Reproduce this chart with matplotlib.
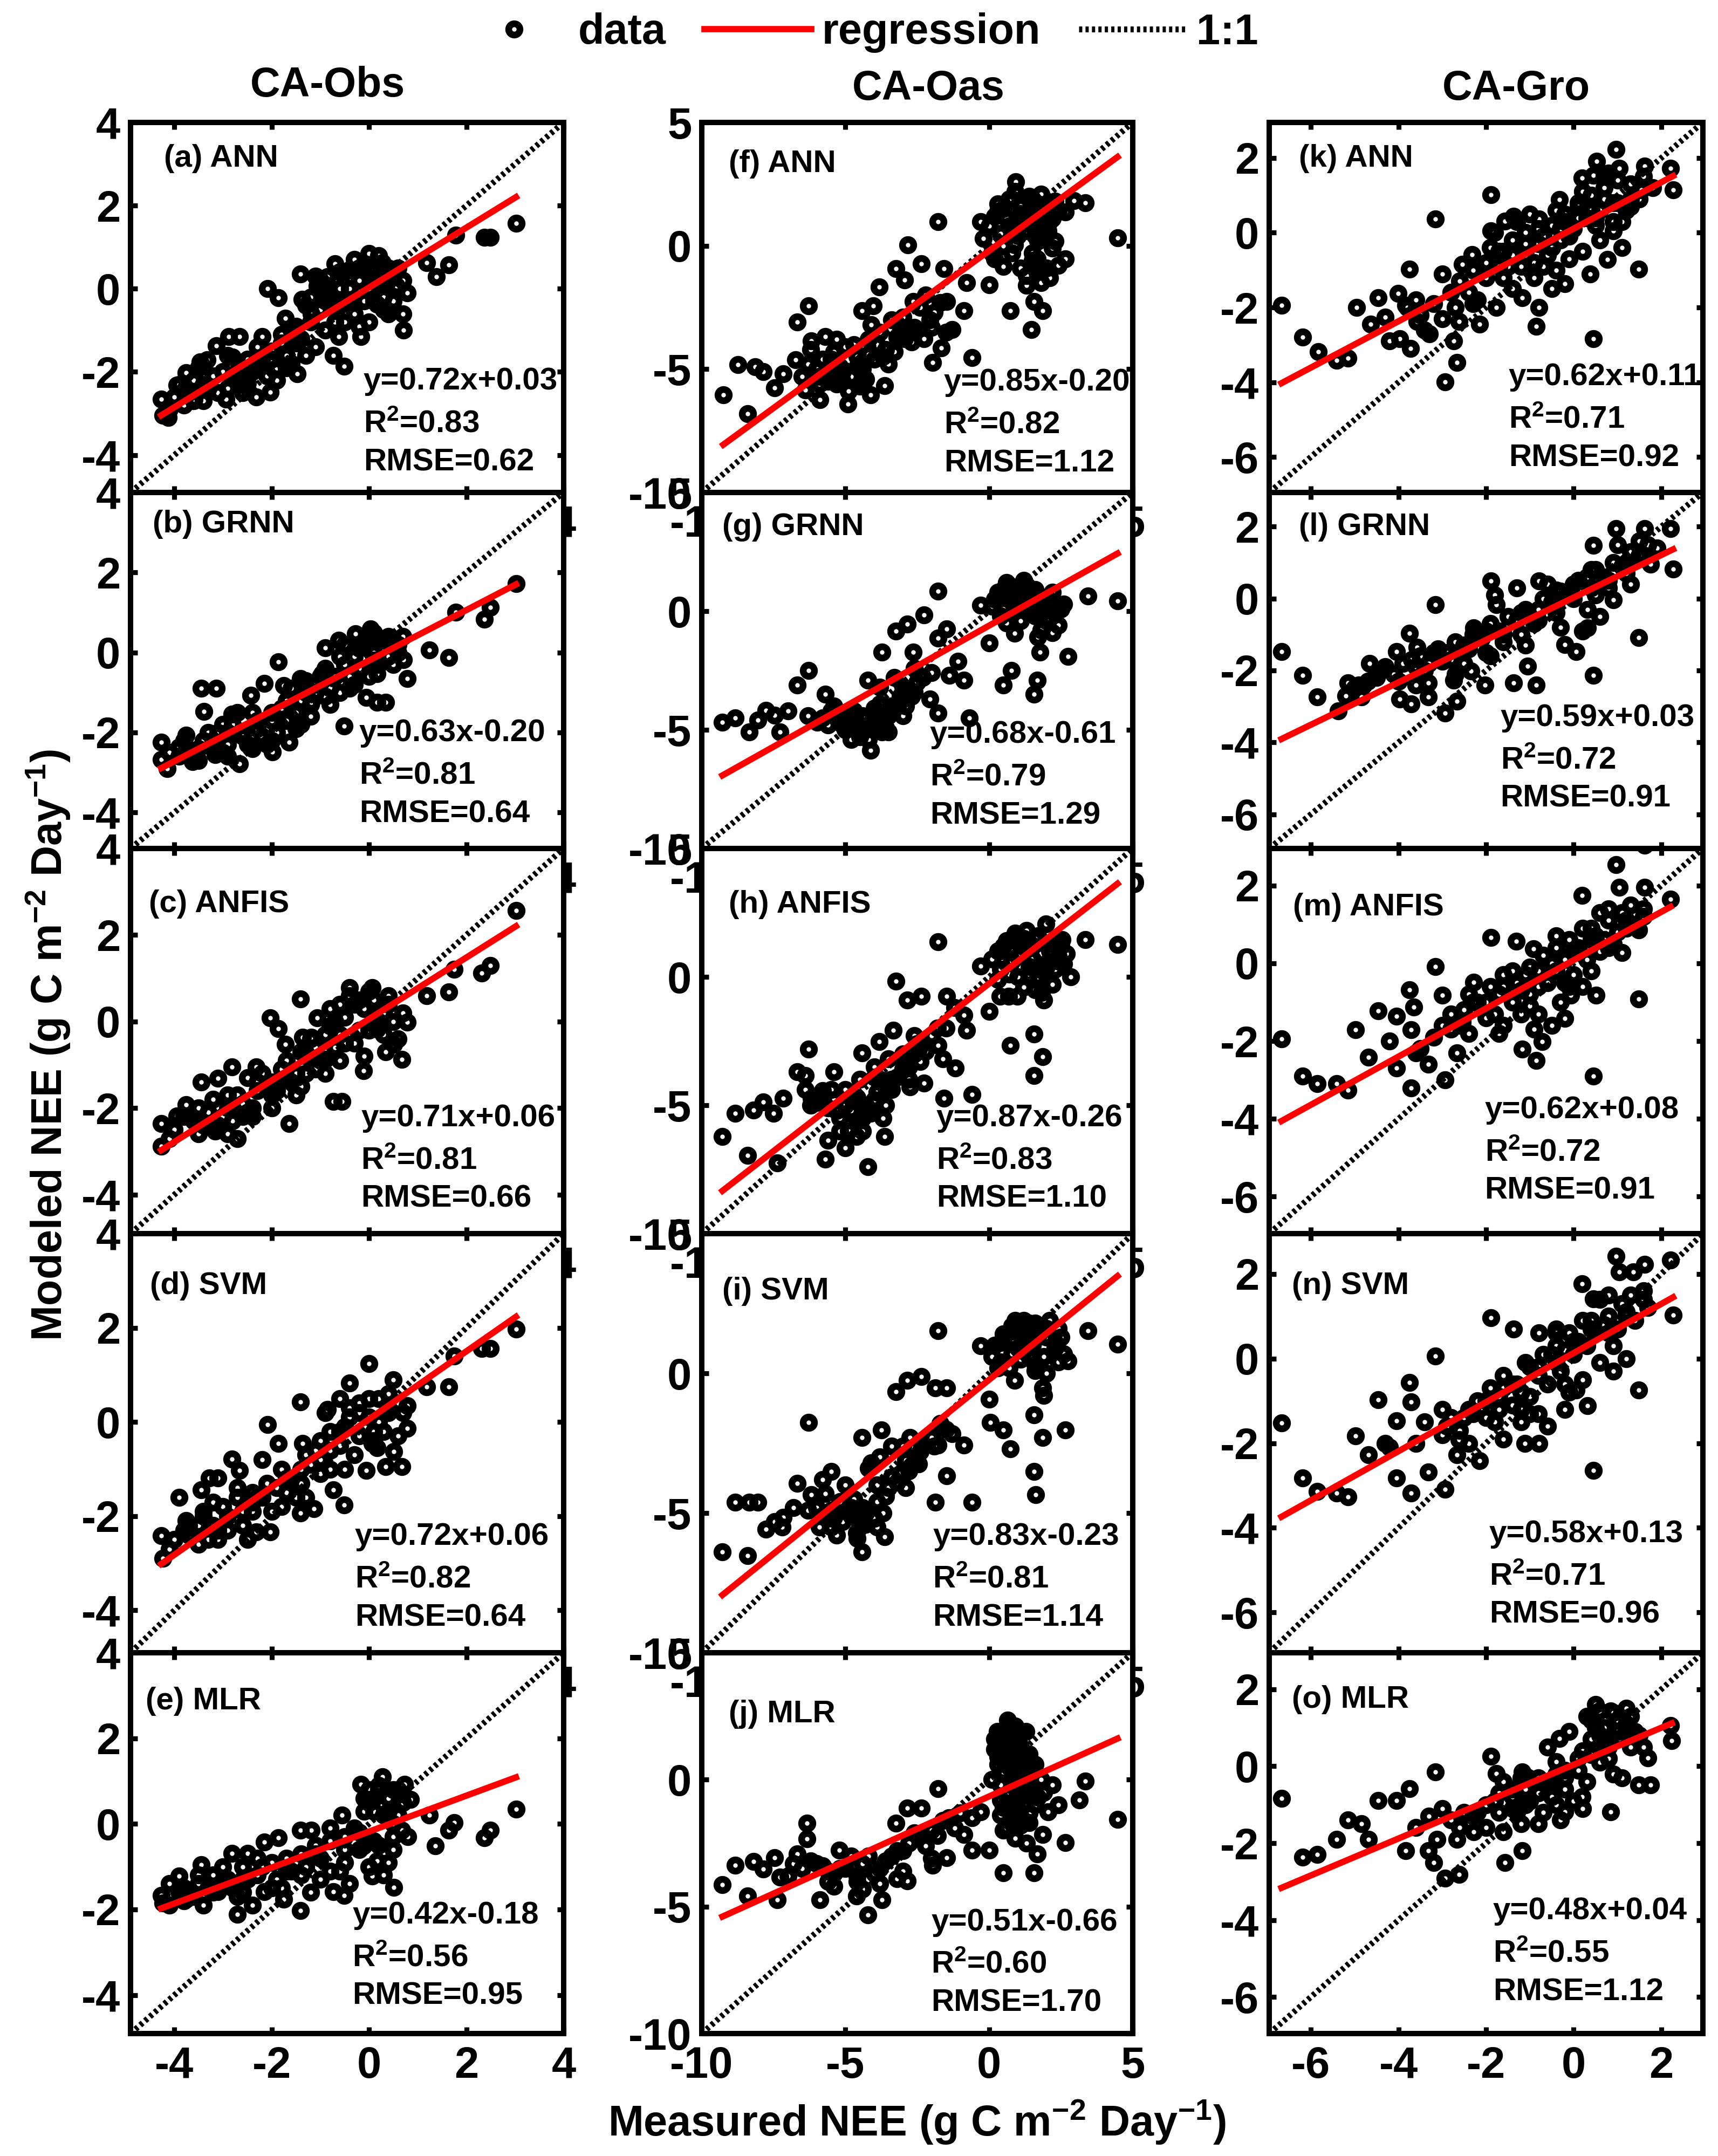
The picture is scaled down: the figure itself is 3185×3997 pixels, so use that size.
import numpy as np
import matplotlib
matplotlib.use('Agg')
import matplotlib.pyplot as plt
from matplotlib.lines import Line2D

# ---------------- DATA ----------------
sites = ['CA-Obs', 'CA-Oas', 'CA-Gro']
models = ['ANN', 'GRNN', 'ANFIS', 'SVM', 'MLR']
letters = 'abcdefghijklmno'

# CA-Obs
obs_ann_x = [-4.27,-4.24,-4.12,-3.95,-3.76,-3.79,-3.59,-3.47,-3.33,-3.14,-2.94,-2.88,-2.8,-2.66,-2.49,-2.32,-2.2,-2.03,-2.09,-1.86,-1.72,-1.47,-1.41,-1.38,-1.19,-1.07,-0.85,-0.73,-0.51,-0.62,-0.4,-0.17,0.0,0.06,0.17,0.28,0.4,0.56,0.71,0.79,1.19,1.38,1.64,1.78,2.37,2.49,3.02,
             -3.6,-3.3,-3.0,-2.7,-2.5,-2.2,-2.0,-1.8,-1.6,-1.4,-1.2,-1.0,-0.8,-0.6,-0.4,-0.2,0.0,0.2,0.4,0.6,-0.5,-0.3,0.1,-2.9,-3.8,-1.1,-0.9,0.3,-2.4,-1.9,-1.6,
             -4.0,-3.7,-3.5,-3.2,-2.9,-2.6,-2.3,-2.1,-1.9,-1.7,-1.5,-1.3,-1.1,-0.9,-0.7,-0.5,-0.3,-0.1,0.1,0.3,0.5,0.7,-0.8,-0.6,-0.2,0.0,0.4,-1.3,-2.6,-3.4,
             -4.1,-3.9,-3.6,-3.4,-3.1,-2.8,-2.5,-2.3,-2.0,-1.8,-1.5,-1.2,-1.0,-0.7,-0.4,-0.1,0.2,0.5,0.7,-0.9,-0.6,-0.2,0.3,-1.7]
obs_ann_y = [-2.65,-3.04,-3.1,-2.32,-2.02,-2.43,-2.65,-1.76,-1.71,-1.37,-2.65,-1.15,-1.65,-1.15,-2.26,-2.6,-1.15,-2.49,0.0,-0.21,-0.71,-2.04,0.35,-0.26,-0.6,0.07,0.29,-1.6,-1.87,-1.15,0.46,-1.15,0.85,0.4,-0.37,0.63,-0.6,0.07,-0.99,-0.1,0.63,0.29,0.57,1.29,1.24,1.24,1.57,
             -2.2,-2.4,-2.0,-2.0,-1.7,-1.8,-1.5,-1.3,-1.0,-1.2,-0.8,-0.5,-0.2,-0.4,0.0,0.2,0.0,0.3,0.2,0.5,-0.8,-0.6,-0.3,-2.4,-2.8,0.3,-1.0,-0.2,-2.0,-2.2,-1.8,
             -2.6,-2.5,-1.9,-2.1,-1.6,-2.3,-1.4,-2.1,-1.9,-1.6,-1.3,-0.4,-1.4,0.1,0.6,0.4,0.7,-0.3,0.5,0.1,-0.3,0.2,-0.4,0.0,0.5,-0.8,0.5,-1.6,-2.5,-2.7,
             -2.9,-2.3,-2.7,-2.3,-2.5,-2.1,-2.0,-1.7,-1.7,-1.1,-0.9,-0.2,0.2,-0.8,-0.3,0.6,0.8,0.3,-0.6,-0.3,0.4,-0.9,-0.5,-1.9]
obs_grnn_x = [-4.27,-4.27,-4.15,-3.9,-3.76,-3.62,-3.45,-3.14,-3.39,-3.16,-2.82,-2.66,-2.43,-2.15,-1.86,-1.75,-1.98,-1.64,-1.41,-1.19,-0.96,-0.9,-0.62,-0.51,-0.28,-0.17,-0.06,0.03,0.17,0.17,0.34,0.45,0.71,0.79,1.24,1.64,1.78,2.37,2.49,3.02,
              -3.5,-3.2,-2.9,-2.6,-2.3,-2.0,-1.8,-1.5,-1.3,-1.1,-0.9,-0.7,-0.5,-0.3,-0.1,0.1,0.3,0.5,-2.4,-1.9,-1.2,-0.4,0.0,-2.7,-3.0,-1.6,0.6,
              -3.9,-3.6,-3.3,-3.0,-2.8,-2.5,-2.2,-2.0,-1.7,-1.4,-1.2,-1.0,-0.8,-0.6,-0.4,-0.2,0.0,0.2,0.4,0.6,-0.3,0.1,0.5,-1.5,-2.1,-2.9,-3.4,-0.9,
              -4.1,-3.8,-3.5,-3.2,-2.9,-2.6,-2.3,-2.0,-1.7,-1.4,-1.1,-0.8,-0.5,-0.2,0.1,0.4,0.7,-0.6,-1.3,-2.4,-3.1]
obs_grnn_y = [-2.25,-2.67,-2.9,-2.37,-2.07,-2.73,-0.89,-0.89,-1.48,-2.55,-1.54,-2.78,-1.07,-0.77,-0.24,-0.83,-2.49,-2.25,-0.65,-1.24,-0.53,0.12,0.3,-1.84,0.47,-0.41,-1.13,0.59,-0.53,-1.24,-1.24,0.18,-0.18,-0.65,0.06,-0.12,1.01,0.83,1.13,1.72,
              -2.4,-2.2,-2.3,-2.0,-1.9,-1.7,-1.4,-1.5,-1.0,-0.8,-1.1,-0.6,-0.3,-0.1,0.2,0.0,0.3,-0.3,-2.4,-2.0,-1.6,-0.9,-0.6,-1.5,-1.8,-0.9,0.2,
              -2.6,-2.5,-2.0,-2.5,-1.8,-2.3,-2.1,-1.5,-1.7,-1.2,-1.3,-0.6,-0.9,-0.1,-0.6,0.1,0.3,-0.3,0.4,0.0,-0.8,-0.2,0.3,-1.9,-2.3,-2.0,-2.2,-0.4,
              -2.5,-2.2,-2.7,-2.4,-2.6,-2.1,-1.7,-2.2,-1.2,-1.8,-1.0,-1.3,0.2,-0.4,0.5,-0.1,0.4,-1.0,-0.7,-1.5,-2.0]
obs_anfis_x = [-4.27,-4.27,-3.95,-3.76,-3.45,-3.16,-3.11,-2.82,-2.71,-2.49,-2.32,-2.03,-1.86,-1.72,-1.64,-1.41,-1.36,-1.19,-1.07,-0.9,-0.73,-0.56,-0.4,-0.11,0.06,0.17,0.34,0.51,0.68,0.79,1.19,1.64,1.75,2.32,2.49,3.02,
               -3.6,-3.3,-3.0,-2.6,-2.3,-2.0,-1.8,-1.5,-1.3,-1.1,-0.9,-0.7,-0.5,-0.3,-0.1,0.1,0.3,0.5,-2.9,-2.0,-1.5,-0.9,-0.3,0.0,-2.5,-0.6,
               -4.0,-3.7,-3.4,-3.2,-2.9,-2.7,-2.4,-2.2,-1.9,-1.7,-1.4,-1.2,-1.0,-0.8,-0.6,-0.4,-0.2,0.0,0.2,0.4,0.6,-0.7,-0.1,0.3,-1.6,-2.8,-3.5,
               -4.1,-3.8,-3.5,-3.2,-2.9,-2.6,-2.3,-2.0,-1.7,-1.4,-1.1,-0.8,-0.5,-0.2,0.1,0.4,0.7,-0.6,-1.3,-2.4,-3.1]
obs_anfis_y = [-2.36,-2.88,-2.18,-1.92,-1.4,-2.53,-1.31,-1.05,-2.71,-2.1,-1.05,0.08,-0.16,-0.53,-2.36,0.52,-0.36,-0.36,0.08,-0.88,-1.84,-1.84,0.78,-1.14,0.78,-0.18,-0.7,-0.53,-0.88,-0.01,0.6,0.69,1.21,1.12,1.3,2.57,
               -2.3,-2.1,-2.2,-1.9,-1.6,-1.4,-1.1,-1.2,-0.8,-0.6,-0.3,0.0,0.1,0.4,0.3,0.5,0.2,0.0,-2.6,-2.0,-1.7,-1.2,-0.5,-0.2,-1.3,-0.9,
               -2.5,-2.2,-2.4,-1.8,-2.0,-1.7,-2.0,-1.2,-1.6,-0.9,-1.5,-0.4,-0.9,0.3,-0.3,0.6,-0.2,0.7,0.0,0.4,-0.4,-0.6,-0.8,-0.3,-1.4,-2.3,-2.6,
               -2.7,-2.2,-2.0,-2.4,-1.7,-2.2,-1.4,-1.7,-1.3,-0.7,-1.1,-0.1,-0.5,0.5,0.1,0.6,0.2,0.4,-1.2,-2.2,-2.4]
obs_svm_x = [-4.27,-4.24,-3.9,-3.76,-3.45,-3.28,-3.11,-3.11,-2.82,-2.66,-2.32,-2.03,-2.09,-1.86,-1.41,-1.41,-1.13,-1.36,-0.73,-0.51,-0.85,-0.4,0.0,0.06,-0.06,0.17,0.34,0.51,0.68,0.79,0.79,1.19,1.64,1.75,2.32,2.49,3.02,
             -3.7,-3.4,-3.0,-2.7,-2.4,-2.1,-1.8,-1.6,-1.3,-1.0,-0.8,-0.6,-0.4,-0.2,0.0,0.2,0.4,0.6,-2.6,-1.8,-1.0,-0.3,0.3,-3.5,-2.2,
             -4.0,-3.7,-3.4,-3.2,-2.9,-2.7,-2.4,-2.2,-1.9,-1.7,-1.4,-1.2,-1.0,-0.8,-0.6,-0.4,-0.2,0.0,0.2,0.4,0.6,-0.5,0.1,-1.5,-2.5,-3.3,0.5,-0.9,
             -4.1,-3.8,-3.5,-3.2,-2.9,-2.6,-2.3,-2.0,-1.7,-1.4,-1.1,-0.8,-0.5,-0.2,0.1,0.4,0.7,-0.6,-1.3,-2.4,-3.1]
obs_svm_y = [-2.41,-2.9,-1.6,-2.09,-1.44,-1.19,-1.19,-2.49,-0.79,-1.03,-2.33,-2.33,-0.06,-0.46,0.43,-1.93,-1.84,-0.46,-1.44,-1.76,0.27,0.83,1.24,-0.46,-1.03,-0.55,-0.95,-0.63,-0.95,-0.14,0.35,0.75,0.75,1.4,1.56,1.56,1.97,
             -2.2,-2.0,-1.8,-1.6,-1.5,-1.3,-1.0,-1.2,-0.7,-0.4,-0.6,-0.2,0.1,0.4,0.1,0.5,0.2,0.4,-2.2,-1.8,-1.1,-0.7,-0.2,-2.6,-0.8,
             -2.5,-2.4,-1.9,-2.2,-2.0,-1.4,-1.9,-1.6,-1.4,-1.5,-1.0,-0.9,-0.8,-0.2,-0.5,0.3,-0.3,0.5,0.0,0.6,-0.3,-1.0,-0.4,-1.6,-2.5,-2.5,0.9,0.2,
             -2.7,-2.3,-2.2,-1.7,-2.3,-1.9,-1.6,-1.9,-1.2,-1.3,-0.6,-1.0,-0.1,0.2,-0.2,0.3,0.2,0.5,-1.6,-1.7,-2.3]
obs_mlr_x = [-4.27,-4.24,-3.9,-3.76,-3.45,-3.11,-2.82,-2.71,-2.49,-2.15,-2.15,-1.86,-1.75,-1.41,-1.41,-1.19,-0.73,-0.51,-0.56,-0.17,-0.11,0.06,0.17,0.28,0.51,0.68,0.73,0.85,1.24,1.36,1.64,1.75,2.37,2.49,3.02,
             -3.8,-3.5,-3.2,-2.9,-2.6,-2.3,-2.0,-1.7,-1.4,-1.1,-0.8,-0.5,-0.3,-0.1,0.1,0.3,0.5,0.7,0.2,0.4,-0.6,-1.0,-2.6,-3.1,0.0,0.5,
             -4.1,-3.9,-3.6,-3.3,-3.0,-2.8,-2.5,-2.2,-1.9,-1.6,-1.3,-1.0,-0.8,-0.5,-0.2,0.0,0.2,0.4,0.6,0.8,0.3,0.5,0.1,-0.1,0.6,-0.4,-1.2,-2.4,-3.4,
             -4.1,-3.8,-3.5,-3.2,-2.9,-2.6,-2.3,-2.0,-1.7,-1.4,-1.1,-0.8,-0.5,-0.2,0.1,0.4,0.7,0.2,0.5,0.0,-1.8,-2.7]
obs_mlr_y = [-1.67,-1.85,-1.22,-1.76,-0.96,-1.58,-0.69,-2.12,-0.69,-0.42,-1.58,-0.33,-1.76,-0.15,-2.03,-0.15,-1.58,-1.67,0.21,0.92,-0.51,-1.22,-0.87,1.1,-1.49,-0.15,0.92,0.57,0.21,-0.51,-0.15,0.03,-0.33,-0.15,0.35,
             -1.5,-1.4,-1.2,-1.3,-1.0,-1.2,-0.9,-0.8,-0.7,-0.5,-0.4,-0.6,-0.1,0.3,0.6,0.2,0.0,0.5,-0.5,-0.9,-1.1,-1.3,-1.6,-1.5,0.8,0.8,
             -1.9,-1.6,-1.7,-1.5,-1.0,-1.5,-1.3,-1.0,-1.3,-1.1,-1.0,-0.8,-0.1,-0.3,-0.6,-1.0,0.9,0.6,0.2,-0.3,-1.2,-0.6,0.3,0.6,0.8,-1.4,-1.6,-1.9,-1.9,
             -1.4,-1.8,-1.2,-1.6,-1.4,-1.3,-0.8,-1.5,-1.1,-1.2,-0.7,-1.1,-0.9,-0.2,-0.4,0.3,0.7,0.8,-0.3,0.5,-1.5,-1.7]

# CA-Oas
oas_ann_x = [-9.25,-8.74,-8.15,-7.86,-8.4,-7.47,-7.17,-6.68,-6.29,-6.73,-6.19,-6.39,-5.7,-5.89,-4.91,-4.42,-3.83,-4.03,-4.13,-3.63,-3.24,-2.83,-2.94,-2.36,-2.65,-2.94,-2.26,-2.06,-1.77,-1.67,-1.96,-1.57,-1.47,-1.28,-0.88,-0.79,-0.59,-0.29,0.0,0.2,0.49,0.74,0.93,0.88,1.47,1.57,1.87,1.67,2.06,2.65,2.65,2.95,3.34,4.47,
             0.2,0.5,0.8,1.1,1.4,1.7,2.0,2.3,0.4,0.7,1.0,1.3,1.6,1.9,2.2,1.5,1.8,2.1,2.4,1.3,-0.2,0.1,
             -6.5,-6.0,-5.6,-5.2,-4.8,-4.4,-4.0,-3.6,-5.4,-5.0,-4.6,-4.2,-3.8,-5.8,-6.2,-4.9,-4.5,-3.4,-3.0,-2.6,-2.2,-1.9,-1.5,
             0.0,0.3,0.6,0.9,1.2,1.5,1.8,2.1,2.4,0.5,1.0,1.5,2.0,0.8,1.3,1.8,2.3,1.1,1.6,
             -6.3,-5.9,-5.5,-5.1,-4.7,-4.3,-3.9,-3.5,-3.1,-2.7,-5.7,-5.3,-4.5,-4.1,-3.3,-2.4,-2.0,-1.7,
             0.3,0.7,1.1,1.5,1.9,2.2,0.9,1.4,1.7,2.0,-5.9,-5.5,-5.1,-4.6,-4.2,-3.7,-3.2,-2.8,-5.3,-4.4]
oas_ann_y = [-6.04,-4.81,-4.91,-5.1,-6.8,-5.76,-5.19,-3.1,-2.44,-4.62,-3.86,-5.85,-3.67,-6.23,-6.42,-2.63,-1.68,-2.44,-6.04,-5.66,-0.92,0.03,-1.39,-0.73,-2.25,-3.77,-3.77,-3.01,0.98,-4.15,-4.72,-0.92,-2.25,-3.39,-2.63,-1.49,-4.53,0.98,-1.58,-0.54,-0.83,-2.63,2.59,0.03,-3.39,-2.25,-2.63,-0.54,0.6,-0.54,1.36,1.83,1.74,0.31,
             1.2,1.5,1.9,1.6,2.0,1.7,1.3,1.8,0.5,0.8,1.0,0.6,0.9,0.3,-0.1,-0.3,-1.0,-1.3,-0.8,-1.2,0.3,-0.3,
             -5.3,-5.0,-5.5,-4.9,-5.3,-5.0,-4.6,-4.2,-4.3,-4.1,-4.5,-3.8,-3.5,-4.6,-4.2,-5.9,-5.7,-3.0,-2.9,-3.3,-2.0,-2.7,-3.5,
             0.8,1.7,1.1,2.2,1.2,1.6,2.1,1.0,1.4,0.0,0.4,-0.6,-0.9,-0.3,-1.6,-1.5,0.2,-0.9,0.4,
             -4.8,-5.6,-4.6,-5.5,-4.0,-5.4,-4.0,-4.8,-3.5,-3.9,-5.2,-3.8,-4.8,-3.2,-4.3,-2.5,-3.3,-2.3,
             1.4,1.9,1.3,1.9,1.5,1.1,0.6,0.9,0.2,0.8,-5.3,-4.8,-5.1,-4.9,-4.4,-4.5,-3.7,-3.3,-5.6,-5.6]
oas_grnn_x = [-9.28,-8.84,-8.35,-8.05,-7.76,-7.47,-7.27,-6.68,-6.29,-5.7,-5.99,-4.13,-3.73,-3.73,-4.22,-3.24,-2.85,-2.26,-2.65,-1.77,-1.47,-1.77,-2.06,-1.77,-1.08,-0.88,-1.38,-0.69,-0.29,0.0,0.49,0.78,0.88,1.57,1.77,1.67,2.75,3.44,4.47,
              0.2,0.5,0.8,1.1,1.4,1.7,2.0,2.3,0.4,0.9,1.3,1.6,2.0,2.5,1.8,2.2,0.6,1.2,
              -5.5,-5.2,-4.9,-4.6,-4.3,-4.0,-3.7,-3.4,-3.1,-2.8,-2.5,-5.0,-4.5,-4.0,-3.5,-3.0,-2.6,-6.3,-7.0,-3.8,-3.3,
              0.1,0.4,0.7,1.0,1.3,1.6,1.9,2.2,2.6,0.6,1.1,1.5,2.1,2.4,1.7,
              -5.8,-5.4,-5.1,-4.7,-4.4,-4.1,-3.8,-3.5,-3.2,-2.9,-2.6,-2.3,-4.8,-4.2,-3.6,-3.0,-5.6,-2.0,
              0.3,0.8,1.2,1.7,2.1,0.5,1.4,-5.3,-4.8,-4.4,-3.9,-3.5,-3.0,-2.7,-4.6]
oas_grnn_y = [-4.68,-4.49,-5.08,-4.59,-4.19,-4.39,-5.08,-3.11,-2.51,-3.5,-4.68,-5.87,-5.08,-1.73,-2.91,-0.84,-0.54,-0.15,-1.73,0.84,-0.74,-1.13,-3.7,-4.29,-2.12,-2.91,-2.71,-4.49,0.25,-1.33,-3.11,-2.51,-0.94,-3.5,-1.73,-2.91,-1.92,0.64,0.44,
              0.5,0.9,0.7,1.0,0.8,0.4,0.6,0.2,-0.2,0.1,0.3,-0.2,-0.4,0.1,-0.8,-0.9,1.2,1.3,
              -4.2,-4.6,-4.3,-4.9,-4.5,-4.1,-4.6,-4.0,-3.6,-3.3,-3.0,-5.0,-5.3,-5.0,-5.1,-4.4,-2.4,-4.4,-4.2,-3.2,-2.8,
              0.2,0.6,1.1,0.5,1.1,0.9,0.3,0.8,0.3,-0.5,-0.4,0.0,-0.3,-0.6,-1.1,
              -4.5,-4.0,-4.8,-4.2,-5.1,-4.7,-3.9,-4.4,-3.9,-4.0,-3.4,-2.8,-5.4,-5.4,-4.9,-3.2,-4.8,-2.6,
              0.8,0.4,0.8,0.6,0.4,0.1,-0.1,-4.4,-4.6,-4.4,-4.3,-4.2,-3.7,-3.6,-4.8]
oas_anfis_x = [-9.28,-8.84,-8.4,-8.2,-7.86,-7.51,-7.37,-7.17,-6.68,-6.39,-6.29,-6.19,-5.8,-5.7,-5.6,-5.4,-5.01,-4.61,-4.22,-4.13,-4.42,-3.83,-3.63,-3.34,-3.24,-2.85,-2.36,-2.75,-2.46,-2.26,-1.77,-1.77,-1.57,-1.47,-1.18,-0.88,-0.79,-0.59,-0.29,0.0,0.39,0.69,0.74,0.98,1.57,1.57,1.87,1.82,1.97,2.55,2.85,3.34,4.47,
               0.3,0.6,0.9,1.2,1.5,1.8,2.1,0.4,0.8,1.1,1.4,1.7,2.0,2.4,2.7,2.2,1.0,1.9,
               -6.0,-5.6,-5.2,-4.8,-4.4,-4.0,-3.6,-3.2,-2.8,-5.0,-4.5,-4.0,-3.5,-3.0,-2.4,-2.0,-1.5,-1.2,-3.7,-4.9,-2.6,-6.4,
               0.1,0.5,0.9,1.3,1.7,2.1,2.5,0.7,1.1,1.5,1.9,2.3,2.6,1.2,0.3,1.6,
               -6.2,-5.8,-5.4,-5.0,-4.6,-4.2,-3.8,-3.4,-3.0,-2.6,-2.2,-1.8,-5.2,-4.4,-3.6,-2.8,-1.6,-4.0,
               0.4,0.8,1.2,1.6,2.0,2.4,1.0,1.4,-5.8,-5.3,-4.8,-4.3,-3.9,-3.4,-2.9,-2.5,-4.6,-5.5]
oas_anfis_y = [-6.21,-5.32,-6.95,-5.18,-4.88,-5.32,-7.24,-4.73,-3.7,-3.85,-2.82,-4.73,-4.44,-7.1,-6.36,-3.7,-6.65,-6.21,-7.39,-5.32,-2.97,-2.52,-6.21,-2.08,-0.16,-0.9,-0.75,-4.29,-2.82,-4.14,1.37,-2.67,-4.73,-0.75,-3.55,-1.49,-2.08,-4.59,0.43,-1.34,-0.75,-0.75,-2.67,-0.75,-2.23,-3.85,-3.11,-0.6,2.05,1.46,0.01,1.46,1.25,
               1.0,1.4,1.7,1.5,1.2,0.9,1.3,0.3,0.6,0.9,0.4,0.0,0.4,0.6,0.9,-0.3,0.0,-0.9,
               -4.9,-5.1,-5.5,-5.2,-5.5,-4.8,-4.3,-3.9,-3.5,-4.4,-4.0,-3.5,-3.2,-3.0,-3.3,-2.3,-2.0,-1.2,-5.5,-6.0,-2.3,-4.4,
               0.7,1.2,1.4,1.8,1.6,1.0,1.2,0.1,0.4,0.7,0.2,0.3,0.5,-0.4,-0.1,-0.5,
               -5.0,-4.6,-4.8,-5.0,-4.7,-5.2,-4.0,-4.4,-3.6,-3.0,-2.9,-2.0,-6.0,-6.0,-5.0,-4.0,-3.2,-3.9,
               1.0,1.5,1.2,1.5,1.3,0.8,0.8,0.1,-4.8,-5.2,-4.7,-5.0,-4.5,-4.0,-3.3,-2.6,-5.6,-4.4]
oas_svm_x = [-9.28,-8.84,-8.35,-8.05,-8.4,-7.76,-7.47,-7.17,-6.68,-6.29,-5.8,-5.5,-6.19,-5.4,-4.62,-4.42,-3.63,-4.42,-3.75,-3.24,-2.85,-2.36,-2.75,-2.46,-1.77,-1.87,-1.47,-1.77,-1.47,-1.87,-1.28,-0.88,-0.59,-0.29,0.0,0.05,0.49,0.74,0.88,1.57,1.57,1.62,1.87,1.87,2.65,2.75,3.44,4.47,
             0.2,0.5,0.8,1.1,1.4,1.7,2.0,2.3,2.6,0.4,0.8,1.2,1.6,2.0,2.4,1.9,
             -6.0,-5.6,-5.2,-4.8,-4.4,-4.0,-3.6,-3.2,-2.8,-2.4,-2.0,-5.0,-4.2,-3.8,-3.4,-3.0,-4.6,-3.9,-6.8,-7.2,-1.5,
             0.1,0.5,0.9,1.3,1.7,2.1,2.5,0.7,1.1,1.5,1.9,2.3,1.2,0.3,1.6,
             -6.3,-5.9,-5.5,-5.1,-4.7,-4.3,-3.9,-3.5,-3.1,-2.7,-2.3,-1.9,-5.3,-4.5,-3.7,-2.9,-1.7,-4.1,-5.7,
             0.4,0.8,1.2,1.6,2.0,2.4,1.0,1.4,-5.8,-5.3,-4.8,-4.3,-3.9,-3.4,-2.9,-2.5,-4.6,-5.5]
oas_svm_y = [-6.39,-4.62,-4.62,-4.62,-6.53,-5.57,-5.3,-5.16,-3.93,-1.75,-3.8,-3.52,-4.34,-5.16,-5.71,-6.39,-5.85,-2.3,-2.02,-0.66,-0.25,-0.11,-2.3,-3.25,1.53,-0.52,-0.52,-2.57,-3.66,-4.62,-2.16,-2.57,-4.62,0.98,-0.93,-1.75,-2.02,-2.7,-0.25,-1.48,-3.52,-4.34,-2.3,-0.52,-2.02,0.44,1.53,1.04,
             1.0,1.4,1.7,1.5,1.8,1.3,1.6,1.1,0.7,0.4,0.7,0.8,0.3,0.0,0.4,-0.8,
             -4.8,-5.2,-4.6,-5.1,-4.8,-5.2,-4.4,-3.9,-3.5,-2.8,-2.3,-4.0,-3.4,-3.0,-2.6,-2.6,-5.9,-5.5,-4.8,-5.5,-2.0,
             0.6,1.2,1.9,1.7,1.5,1.9,1.3,0.2,0.5,1.0,0.6,0.9,1.9,0.2,0.1,
             -4.9,-5.5,-4.9,-5.3,-4.5,-5.0,-4.0,-4.1,-3.6,-3.3,-2.6,-2.6,-5.8,-5.5,-5.0,-4.1,-1.8,-3.2,-4.3,
             1.1,1.5,1.4,1.8,1.3,1.6,0.9,0.6,-5.1,-5.0,-4.8,-5.4,-4.6,-3.7,-3.1,-3.0,-5.2,-5.5]
oas_mlr_x = [-9.28,-8.84,-8.4,-8.2,-7.86,-7.37,-7.27,-7.47,-6.68,-6.34,-6.34,-5.89,-5.21,-4.62,-4.22,-3.73,-3.24,-2.85,-2.36,-2.85,-1.77,-1.96,-1.47,-0.88,-0.59,-0.29,0.0,0.49,0.29,0.64,1.28,1.57,1.67,1.87,2.06,2.65,3.14,3.34,4.47,
             0.2,0.5,0.8,1.1,1.4,0.3,0.6,0.9,1.2,1.5,1.8,0.4,0.7,1.0,1.3,1.6,0.5,0.8,1.1,1.4,1.9,2.2,2.4,0.1,1.0,0.6,0.9,
             -6.5,-6.0,-5.6,-5.2,-4.8,-4.4,-4.0,-3.6,-3.2,-2.8,-2.4,-2.0,-1.6,-1.2,-5.4,-4.6,-3.8,-3.0,-7.0,-0.6,
             0.2,0.4,0.6,0.8,1.0,1.2,1.4,1.6,0.3,0.5,0.7,0.9,1.1,1.3,1.5,1.7,0.4,0.6,0.8,1.0,1.2,1.4,0.5,0.9,1.3,0.7,1.1,
             -6.8,-6.2,-5.8,-5.4,-5.0,-4.6,-4.2,-3.8,-3.4,-3.0,-2.6,-2.2,-1.8,-1.4,-1.0,-5.6,-4.4,-3.2,-2.0,
             0.3,0.5,0.7,0.9,1.1,1.3,0.4,0.8,1.2,0.6,1.0]
oas_mlr_y = [-4.13,-3.37,-4.58,-3.22,-3.52,-4.73,-3.83,-3.07,-2.92,-1.72,-2.32,-4.73,-2.77,-4.58,-5.33,-4.73,-1.72,-1.11,-1.11,-3.98,-0.36,-3.37,-3.07,-2.17,-2.77,-1.27,-2.77,-3.67,1.9,2.35,1.9,-3.67,-2.92,-2.17,-1.27,-2.47,-0.81,-0.06,-1.57,
             1.2,1.5,1.7,1.3,1.0,0.6,0.8,0.5,0.2,0.4,0.0,-0.2,-0.5,-0.8,-0.5,-1.0,-1.1,-1.5,-1.8,-1.3,-0.5,-0.2,-1.0,0.0,0.9,2.0,2.1,
             -3.5,-3.3,-3.6,-3.5,-3.0,-3.3,-3.7,-3.2,-2.8,-2.5,-2.2,-2.0,-1.6,-1.9,-4.2,-4.0,-4.1,-3.6,-3.8,-1.5,
             1.6,1.9,1.2,1.4,1.6,1.0,0.7,0.6,0.9,0.3,0.5,-0.1,0.2,-0.2,-0.4,-0.7,-0.8,-0.6,-1.2,-1.4,-1.0,-1.7,-2.0,-2.3,-2.5,2.2,1.9,
             -3.3,-3.2,-3.4,-3.7,-3.5,-3.8,-3.0,-3.5,-3.0,-2.8,-2.1,-2.6,-2.2,-1.5,-1.3,-4.0,-4.3,-3.9,-3.1,
             1.4,0.8,0.9,0.2,-0.5,0.3,-1.4,-0.9,-1.6,-1.9,1.5]

# CA-Gro
gro_ann_x = [-6.67,-6.19,-5.83,-5.41,-5.15,-4.95,-4.63,-4.46,-4.3,-4.01,-3.97,-3.75,-3.72,-3.84,-3.58,-3.29,-3.16,-3.0,-2.93,-2.67,-2.74,-2.61,-2.54,-2.32,-2.15,-1.89,-1.89,-1.76,-1.57,-1.37,-1.18,-0.79,-0.85,-0.79,-0.33,-0.2,0.19,0.38,0.45,0.45,0.52,0.77,0.9,0.97,1.04,1.49,1.55,1.62,2.21,2.27,
             -2.0,-1.7,-1.4,-1.1,-0.8,-0.5,-0.2,0.1,0.4,0.7,1.0,1.3,-1.6,-1.2,-0.9,-0.6,-0.3,0.0,0.3,0.6,0.9,1.2,1.5,1.8,0.2,-0.4,-2.4,-2.8,-3.2,-3.5,-2.2,-1.4,0.6,1.1,-1.0,-0.5,
             -2.6,-2.3,-2.0,-1.7,-1.4,-1.1,-0.8,-0.5,-0.2,0.1,0.4,0.7,1.0,1.3,1.6,-1.8,-1.3,-0.7,-0.1,0.5,1.1,-3.0,-3.4,-3.8,-4.2,-0.4,0.2,0.8,
             -2.3,-1.9,-1.5,-1.1,-0.7,-0.3,0.1,0.5,0.9,1.3,-1.6,-0.9,-0.1,0.7,-2.7,-3.6]
gro_ann_y = [-1.94,-2.79,-3.18,-3.41,-3.35,-2.0,-2.45,-1.74,-2.26,-1.62,-2.83,-0.97,-3.09,-1.94,-2.38,-2.71,0.37,-1.1,-3.99,-3.47,-2.9,-2.38,-0.85,-0.59,-2.45,1.01,0.05,-2.0,0.31,0.44,-1.74,-2.0,-2.51,0.37,0.88,-1.36,1.46,-1.1,-2.83,1.53,1.91,-0.72,0.05,2.23,1.72,-0.97,1.14,1.78,1.72,1.14,
             -0.8,-0.5,-0.2,0.0,-0.3,0.2,0.5,0.8,1.0,1.2,0.8,1.3,-1.2,-0.9,-1.2,-0.6,-0.2,0.1,0.4,0.6,0.3,0.6,0.9,1.2,-0.5,-1.0,-1.6,-1.6,-1.9,-2.2,-1.8,-1.5,-0.2,-0.4,0.5,-1.5,
             -1.3,-1.9,-1.2,-0.9,-0.6,-0.6,0.1,-0.4,0.3,0.4,0.6,0.9,1.4,0.9,1.5,0.0,0.3,-0.9,-0.7,0.2,0.3,-2.3,-2.6,-2.0,-2.9,0.6,1.1,1.6,
             -1.0,-0.4,-0.9,-0.3,-0.1,0.1,0.7,0.4,0.8,0.7,-0.5,-0.8,-0.1,1.5,-2.0,-1.8]
gro_grnn_x = [-6.67,-6.19,-5.86,-5.37,-5.15,-4.85,-4.66,-4.46,-4.04,-3.97,-3.71,-3.75,-3.58,-3.32,-3.32,-3.16,-3.0,-2.93,-2.67,-2.74,-2.35,-2.28,-2.02,-1.89,-1.76,-1.37,-1.05,-0.85,-0.79,-0.4,-0.2,0.06,0.32,0.32,0.45,0.45,0.97,0.9,1.49,1.62,1.75,2.21,2.27,
              -5.0,-4.7,-4.3,-3.9,-3.5,-3.1,-2.7,-2.3,-1.9,-1.5,-1.1,-0.7,-0.3,0.1,0.5,0.9,1.3,1.7,-2.5,-2.0,-1.6,-1.2,-0.8,-0.4,0.0,0.4,0.8,1.2,-3.4,-1.8,-1.3,0.6,1.0,1.5,
              -5.2,-4.9,-4.5,-4.1,-3.7,-3.3,-2.9,-2.5,-2.1,-1.7,-1.3,-0.9,-0.5,-0.1,0.3,0.7,1.1,1.5,1.9,-2.7,-1.9,-1.1,-0.3,0.5,1.3,-3.6,-0.6,0.2,
              -4.8,-4.4,-4.0,-3.6,-3.2,-2.8,-2.4,-2.0,-1.6,-1.2,-0.8,-0.4,0.0,0.4,0.8,1.2,1.6]
gro_grnn_y = [-1.48,-2.14,-2.73,-3.12,-2.34,-2.73,-1.81,-2.07,-1.48,-2.8,-2.93,-0.96,-1.35,-2.73,-2.34,-0.17,-1.74,-3.19,-2.86,-2.27,-2.01,-0.82,-2.4,0.49,-0.17,-2.34,-1.88,-2.4,0.49,0.23,-1.28,-1.48,-0.3,-0.82,1.48,-2.14,1.94,-0.04,-1.09,1.94,0.95,1.94,0.82,
              -2.5,-2.3,-1.9,-1.8,-1.6,-1.4,-1.2,-1.0,-0.7,-0.5,-0.3,0.0,0.2,0.5,0.8,1.0,1.3,1.5,-1.8,-1.5,-1.2,-1.0,-0.6,-0.4,0.0,0.3,0.5,0.7,-2.0,0.1,0.3,-0.5,1.5,1.6,
              -2.7,-2.4,-2.2,-2.1,-1.7,-1.8,-1.5,-1.3,-1.1,-0.9,-0.6,-0.7,-0.1,0.2,0.6,0.6,0.9,1.2,1.4,-2.1,-1.6,-1.3,-0.8,0.1,0.4,-2.4,0.4,-0.9,
              -2.4,-2.0,-2.3,-1.9,-1.5,-1.7,-1.4,-0.9,-1.0,-0.4,-0.3,-0.2,0.4,0.8,0.3,1.0,1.2]
gro_anfis_x = [-6.67,-6.19,-5.86,-5.41,-5.15,-4.98,-4.69,-4.46,-4.04,-4.04,-3.75,-3.65,-3.71,-3.71,-3.32,-3.16,-3.0,-2.93,-2.67,-2.54,-2.28,-1.89,-1.7,-1.31,-1.18,-0.92,-0.85,-0.72,-0.2,-0.07,0.19,0.45,0.51,0.97,1.04,1.1,1.49,1.49,1.62,2.21,1.62,
               -2.5,-2.2,-1.9,-1.6,-1.3,-1.0,-0.7,-0.4,-0.1,0.2,0.5,0.8,1.1,1.4,-1.8,-1.4,-1.0,-0.6,-0.3,0.0,0.3,0.6,0.9,-3.2,-2.8,-3.5,-0.5,-0.8,0.4,
               -3.0,-2.6,-2.3,-2.0,-1.7,-1.4,-1.1,-0.8,-0.5,-0.2,0.1,0.4,0.7,1.0,1.3,1.6,-1.6,-1.2,-0.9,-0.4,0.2,0.8,1.2,-2.4,-3.6,-4.2,-0.1,
               -2.8,-2.4,-2.0,-1.6,-1.2,-0.8,-0.4,0.0,0.4,0.8,1.2,1.6,-1.0,-0.2,0.6]
gro_anfis_y = [-1.95,-2.9,-3.1,-3.1,-3.26,-1.71,-2.41,-1.22,-1.36,-2.7,-0.68,-1.12,-1.71,-3.2,-2.6,-0.09,-0.82,-3.0,-2.31,-1.51,-0.49,0.66,-1.81,0.56,-2.21,0.37,-2.5,-2.01,-1.42,-0.82,1.75,-2.9,-0.82,2.54,1.95,0.27,-0.92,0.86,1.95,1.65,3.04,
               -1.2,-1.0,-0.6,-0.3,-0.5,-0.1,0.2,0.4,0.6,0.9,0.7,1.1,1.3,1.0,-1.3,-1.0,-0.8,-0.5,-1.0,-0.3,0.1,0.3,0.5,-1.9,-1.7,-2.2,-1.6,-1.3,-0.2,
               -1.6,-1.6,-1.0,-1.4,-0.8,-0.2,-0.3,-0.6,0.0,0.1,0.4,0.9,0.6,0.8,1.5,1.2,-1.6,-1.3,-1.7,0.7,-0.6,1.4,0.9,-1.8,-2.3,-2.0,-0.6,
               -1.3,-0.8,-1.0,-0.6,-0.7,-0.2,-0.2,0.3,0.6,0.4,1.1,1.4,-1.1,-0.5,1.3]
gro_svm_x = [-6.67,-6.19,-5.86,-5.41,-5.15,-4.98,-4.69,-4.46,-4.3,-4.04,-4.04,-3.75,-3.71,-3.71,-3.32,-3.16,-3.0,-2.93,-2.67,-2.61,-2.15,-1.89,-1.7,-1.37,-1.11,-0.79,-0.79,-0.4,0.06,0.19,0.32,0.45,0.45,0.97,1.04,0.9,1.36,1.49,1.62,2.21,2.27,
             -2.5,-2.2,-1.9,-1.6,-1.3,-1.0,-0.7,-0.4,-0.1,0.2,0.5,0.8,1.1,1.4,1.7,-1.8,-1.4,-1.0,-0.6,-0.3,0.0,0.3,0.6,0.9,-0.6,-1.2,-3.4,-2.9,1.2,-0.2,
             -3.0,-2.6,-2.3,-2.0,-1.7,-1.4,-1.1,-0.8,-0.5,-0.2,0.1,0.4,0.7,1.0,1.3,1.6,-1.6,-1.2,-0.8,-0.4,0.2,0.8,1.2,-2.4,-3.6,-4.2,-0.1,
             -2.8,-2.4,-2.0,-1.6,-1.2,-0.8,-0.4,0.0,0.4,0.8,1.2,1.6,-1.0,-0.2,0.6]
gro_svm_y = [-1.52,-2.82,-3.14,-3.18,-3.27,-1.83,-2.28,-0.98,-2.01,-2.82,-1.47,-0.57,-1.02,-3.18,-2.68,0.06,-1.2,-3.09,-2.28,-1.92,-2.42,0.96,-1.2,0.69,-2.01,0.6,-2.01,0.69,-0.75,1.77,-1.11,-2.64,1.41,2.41,2.05,-0.3,2.05,-0.75,2.23,2.32,1.02,
             -1.4,-1.0,-0.7,-0.4,-0.6,-0.2,0.1,0.3,0.6,0.9,0.6,1.0,1.3,0.9,1.2,-1.5,-1.1,-0.9,-0.6,-0.3,0.1,0.3,-0.1,0.3,-1.6,-1.5,-1.5,-1.6,0.0,-1.2,
             -1.8,-1.7,-1.3,-1.4,-0.9,-0.6,-0.1,-0.4,0.1,0.2,0.4,0.9,0.8,0.7,1.5,1.4,-1.9,-1.2,-1.3,0.6,-0.5,1.5,1.0,-2.0,-2.0,-2.1,-0.8,
             -1.4,-1.2,-1.0,-0.7,-0.8,-0.2,-0.1,0.4,0.7,0.6,1.1,1.6,-1.3,-0.6,1.4]
gro_mlr_x = [-6.67,-6.19,-5.86,-5.41,-5.15,-4.85,-4.69,-4.46,-4.04,-3.84,-3.75,-3.32,-3.19,-3.16,-3.12,-2.93,-2.61,-2.67,-2.28,-1.89,-1.76,-1.57,-1.18,-1.18,-1.05,-0.4,-0.33,-0.2,0.19,0.58,0.84,0.84,1.04,1.49,1.75,1.69,2.21,2.24,
             -2.0,-1.7,-1.4,-1.1,-0.8,-0.5,-0.2,0.1,0.4,0.7,1.0,1.3,0.3,0.6,0.9,-0.3,-0.7,-1.2,-1.6,-2.5,-2.8,-3.3,-3.6,0.5,1.2,1.5,-0.6,0.0,
             -3.0,-2.6,-2.3,-2.0,-1.7,-1.4,-1.1,-0.8,-0.5,-0.2,0.1,0.4,0.7,1.0,1.3,1.6,-1.6,-1.2,-0.8,-0.4,0.2,0.8,1.2,0.5,0.9,0.3,-0.1,1.1,
             -2.2,-1.8,-1.4,-1.0,-0.6,-0.2,0.2,0.6,1.0,1.4,0.4,0.8,1.2,-0.4,-1.3]
gro_mlr_y = [-0.83,-2.36,-2.3,-1.9,-1.4,-1.5,-1.9,-0.89,-0.89,-2.2,-0.59,-2.2,-2.5,-0.15,-1.9,-2.91,-2.81,-1.9,-1.7,0.26,-0.19,-2.5,-2.2,-0.15,-0.29,0.12,0.72,-1.19,-0.79,1.43,1.43,-1.19,0.72,-0.49,-0.49,0.22,1.06,0.66,
             -1.0,-0.7,-1.1,-0.6,-0.3,-0.8,-0.1,0.2,0.7,1.0,1.2,0.5,-0.4,0.1,-0.2,-1.4,-1.2,-1.5,-1.7,-1.2,-1.4,-1.3,-1.6,1.6,1.5,0.8,0.5,-0.9,
             -1.1,-1.6,-1.3,-1.6,-1.2,-0.6,-1.0,-0.7,-0.4,-0.6,-0.1,0.3,0.6,0.9,1.3,0.5,-0.4,-0.3,-1.5,-0.2,-1.1,0.2,0.9,1.0,1.4,1.3,0.9,-0.3,
             -1.2,-0.9,-0.8,-0.9,-0.5,-0.3,0.4,0.8,0.9,0.9,1.2,0.5,1.1,-1.0,-1.2]

# regression statistics (per model order ANN, GRNN, ANFIS, SVM, MLR)
obs_slope = [0.72, 0.63, 0.71, 0.72, 0.42]
obs_icpt = [0.03, -0.20, 0.06, 0.06, -0.18]
obs_r2 = [0.83, 0.81, 0.81, 0.82, 0.56]
obs_rmse = [0.62, 0.64, 0.66, 0.64, 0.95]
oas_slope = [0.85, 0.68, 0.87, 0.83, 0.51]
oas_icpt = [-0.20, -0.61, -0.26, -0.23, -0.66]
oas_r2 = [0.82, 0.79, 0.83, 0.81, 0.60]
oas_rmse = [1.12, 1.29, 1.10, 1.14, 1.70]
gro_slope = [0.62, 0.59, 0.62, 0.58, 0.48]
gro_icpt = [0.11, 0.03, 0.08, 0.13, 0.04]
gro_r2 = [0.71, 0.72, 0.72, 0.71, 0.55]
gro_rmse = [0.92, 0.91, 0.91, 0.96, 1.12]

obs_ticks = [-4, -2, 0, 2, 4]
oas_ticks = [-10, -5, 0, 5]
gro_ticks = [-6, -4, -2, 0, 2]
obs_lim = (-4.9, 4.0)
oas_lim = (-10.0, 5.0)
gro_lim = (-6.95, 2.95)

# ---------------- assemble ----------------
site_data = [
    [(obs_ann_x, obs_ann_y), (obs_grnn_x, obs_grnn_y), (obs_anfis_x, obs_anfis_y), (obs_svm_x, obs_svm_y), (obs_mlr_x, obs_mlr_y)],
    [(oas_ann_x, oas_ann_y), (oas_grnn_x, oas_grnn_y), (oas_anfis_x, oas_anfis_y), (oas_svm_x, oas_svm_y), (oas_mlr_x, oas_mlr_y)],
    [(gro_ann_x, gro_ann_y), (gro_grnn_x, gro_grnn_y), (gro_anfis_x, gro_anfis_y), (gro_svm_x, gro_svm_y), (gro_mlr_x, gro_mlr_y)],
]
site_stats = [
    (obs_slope, obs_icpt, obs_r2, obs_rmse),
    (oas_slope, oas_icpt, oas_r2, oas_rmse),
    (gro_slope, gro_icpt, gro_r2, gro_rmse),
]
site_ticks = [obs_ticks, oas_ticks, gro_ticks]
site_lims = [obs_lim, oas_lim, gro_lim]

# ---------------- style / layout ----------------
plt.rcParams['font.family'] = ['Liberation Sans', 'DejaVu Sans']
plt.rcParams['font.weight'] = 'bold'
plt.rcParams['axes.unicode_minus'] = False
plt.rcParams['mathtext.fontset'] = 'custom'
plt.rcParams['mathtext.rm'] = 'Liberation Sans:bold'
plt.rcParams['mathtext.it'] = 'Liberation Sans:bold'
plt.rcParams['mathtext.bf'] = 'Liberation Sans:bold'
plt.rcParams['mathtext.default'] = 'rm'

W, H = 3186, 3997
DPI = 300
fig = plt.figure(figsize=(W / DPI, H / DPI), dpi=DPI)

col_px = [(242, 1045), (1301, 2100), (2353, 3157)]
row_px = [227, 913, 1573, 2287, 3064, 3770]

# panel-label positions (axes fraction) [col][row]
lab_pos = [
    [(0.077, 0.902), (0.051, 0.911), (0.042, 0.856), (0.045, 0.875), (0.035, 0.872)],
    [(0.062, 0.888), (0.048, 0.903), (0.062, 0.854), (0.048, 0.862), (0.062, 0.838)],
    [(0.068, 0.903), (0.068, 0.903), (0.055, 0.847), (0.052, 0.875), (0.052, 0.877)],
]
# stats text: left edge and baseline of middle line (axes fraction)
stat_pos = [
    [(0.538, 0.163), (0.528, 0.181), (0.532, 0.168), (0.518, 0.155), (0.512, 0.177)],
    [(0.562, 0.160), (0.529, 0.177), (0.544, 0.168), (0.536, 0.155), (0.532, 0.159)],
    [(0.552, 0.174), (0.533, 0.224), (0.497, 0.189), (0.507, 0.162), (0.516, 0.188)],
]

MS, MEW = 5.0, 3.0
ONE_STYLE = dict(color='k', lw=2.6, ls=(0, (0.55, 0.55)))

for r in range(5):
    for c in range(3):
        x0, x1 = col_px[c]
        y0, y1 = row_px[r], row_px[r + 1]
        ax = fig.add_axes([x0 / W, 1 - y1 / H, (x1 - x0) / W, (y1 - y0) / H])
        lim = site_lims[c]
        xs = np.array(site_data[c][r][0], dtype=float)
        ys = np.array(site_data[c][r][1], dtype=float)
        slope, icpt, r2, rmse = (s[r] for s in site_stats[c])

        ax.plot(lim, lim, zorder=1, **ONE_STYLE)
        ax.plot(xs, ys, 'o', mfc='none', mec='k', ms=MS, mew=MEW, zorder=2)
        xr = np.array([xs.min(), xs.max()])
        ax.plot(xr, slope * xr + icpt, color='#ff0000', lw=2.8, zorder=3)

        ax.set_xlim(lim)
        ax.set_ylim(lim)
        ax.set_xticks(site_ticks[c])
        ax.set_yticks(site_ticks[c])
        ax.tick_params(axis='both', which='both', direction='in', top=True, right=True,
                       length=3, width=2.2, labelsize=19.5)
        ax.tick_params(axis='x', pad=5.5)
        ax.tick_params(axis='y', pad=4.5)
        for lab in ax.get_xticklabels() + ax.get_yticklabels():
            lab.set_fontweight('bold')
        for sp in ax.spines.values():
            sp.set_linewidth(2.4)

        lx, ly = lab_pos[c][r]
        ax.text(lx, ly, f'({letters[c * 5 + r]}) {models[r]}', transform=ax.transAxes,
                fontsize=14, fontweight='bold', ha='left', va='center')

        sx, sy = stat_pos[c][r]
        sign = '+' if icpt >= 0 else '-'
        lines = [f'y={slope:.2f}x{sign}{abs(icpt):.2f}',
                 f'R$^2$={r2:.2f}',
                 f'RMSE={rmse:.2f}']
        for txt, off in zip(lines, [19, 0, -17]):
            ax.annotate(txt, xy=(sx, sy), xycoords='axes fraction',
                        xytext=(0, off), textcoords='offset points',
                        fontsize=14, fontweight='bold', ha='left', va='baseline',
                        annotation_clip=False)

# column titles
title_px = [(607, 158), (1721, 164), (2811, 164)]
for name, (tx, ty) in zip(sites, title_px):
    fig.text(tx / W, 1 - ty / H, name, fontsize=18.5, fontweight='bold', ha='center', va='center')

# axis labels
fig.text(1700 / W, 1 - 3960 / H, r'Measured NEE (g C m$^{-2}$ Day$^{-1}$)',
         fontsize=19, fontweight='bold', ha='center', va='baseline')
fig.text(89 / W, 1 - 1937 / H, r'Modeled NEE (g C m$^{-2}$ Day$^{-1}$)',
         fontsize=19, fontweight='bold', ha='center', va='center', rotation=90)

# legend
handles = [Line2D([], [], ls='none', marker='o', mfc='none', mec='k', ms=MS, mew=MEW),
           Line2D([], [], color='#ff0000', lw=2.8),
           Line2D([], [], **ONE_STYLE)]
fig.legend(handles, ['data', 'regression', '1:1'], loc='center',
           bbox_to_anchor=(0.500, 1 - 61 / H), ncol=3, frameon=False,
           prop={'size': 19, 'weight': 'bold'}, handlelength=2.5, handletextpad=0.25,
           columnspacing=0.9, borderpad=0, borderaxespad=0, numpoints=1)

fig.savefig('out.png', dpi=DPI, facecolor='white')
